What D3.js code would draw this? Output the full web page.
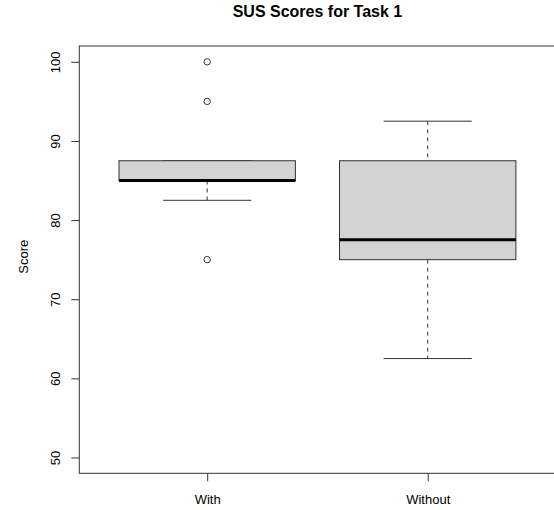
<!DOCTYPE html>
<html>
<head>
<meta charset="utf-8">
<script src="https://cdn.jsdelivr.net/npm/d3@7"></script>
<style>
  html, body { margin: 0; padding: 0; background: #fff; }
  svg { display: block; }
  text { font-family: "Liberation Sans", Arial, Helvetica, sans-serif; fill: #000; }
</style>
</head>
<body>
<script>
// ---- data ----
const groups = ["With", "Without"];
const lowerWhisker = [82.5, 62.5];
const q1 = [85, 75];
const median = [85, 77.5];
const q3 = [87.5, 87.5];
const upperWhisker = [87.5, 92.5];
const outliers = [[100, 95, 75], []];
const yTicks = [50, 60, 70, 80, 90, 100];
const title = "SUS Scores for Task 1";
const yLabel = "Score";

// ---- layout ----
const W = 554, H = 510;
const svg = d3.select("body").append("svg").attr("width", W).attr("height", H);

const x = d3.scaleLinear().domain([0.42, 2.58]).range([79.3, 555.6]);
const y = d3.scaleLinear().domain([48, 102]).range([473.3, 46]);
const boxHalf = 0.4, capHalf = 0.2;
const lineCol = "#333";

const data = groups.map((g, i) => ({
  g, i: i + 1, lo: lowerWhisker[i], q1: q1[i], med: median[i], q3: q3[i], hi: upperWhisker[i], out: outliers[i]
}));

const gBox = svg.append("g");
data.forEach(d => {
  const g = gBox.append("g");
  // whiskers (dashed)
  g.append("line").attr("x1", x(d.i)).attr("x2", x(d.i)).attr("y1", y(d.hi)).attr("y2", y(d.q3))
    .attr("stroke", lineCol).attr("stroke-dasharray", "4,4");
  g.append("line").attr("x1", x(d.i)).attr("x2", x(d.i)).attr("y1", y(d.q1)).attr("y2", y(d.lo))
    .attr("stroke", lineCol).attr("stroke-dasharray", "4,4");
  // caps
  [d.lo, d.hi].forEach(v => {
    g.append("line").attr("x1", x(d.i - capHalf)).attr("x2", x(d.i + capHalf))
      .attr("y1", y(v)).attr("y2", y(v)).attr("stroke", lineCol);
  });
  // box
  g.append("rect").attr("x", x(d.i - boxHalf)).attr("width", x(d.i + boxHalf) - x(d.i - boxHalf))
    .attr("y", y(d.q3)).attr("height", y(d.q1) - y(d.q3))
    .attr("fill", "#d3d3d3").attr("stroke", lineCol);
  // median
  g.append("line").attr("x1", x(d.i - boxHalf)).attr("x2", x(d.i + boxHalf))
    .attr("y1", y(d.med)).attr("y2", y(d.med)).attr("stroke", "#000").attr("stroke-width", 3);
  // outliers
  g.selectAll("circle").data(d.out).enter().append("circle")
    .attr("cx", x(d.i)).attr("cy", v => y(v)).attr("r", 3.2)
    .attr("fill", "none").attr("stroke", lineCol);
});

// frame
svg.append("rect").attr("x", x(0.42)).attr("y", y(102))
  .attr("width", x(2.58) - x(0.42)).attr("height", y(48) - y(102))
  .attr("fill", "none").attr("stroke", lineCol);

// y axis
const yAxis = d3.axisLeft(y).tickValues(yTicks).tickSize(8).tickFormat(d3.format("d"));
const gy = svg.append("g").attr("transform", `translate(${x(0.42)},0)`).call(yAxis);
gy.select(".domain").remove();
gy.selectAll(".tick line").attr("stroke", lineCol);
gy.selectAll(".tick text")
  .attr("x", 0).attr("dy", 0)
  .attr("transform", "translate(-19,0) rotate(-90)")
  .attr("text-anchor", "middle")
  .style("font-size", "13px")
  .style("font-family", "'Liberation Sans', Arial, sans-serif")
  .attr("fill", "#000");

// x axis
const xAxis = d3.axisBottom(x).tickValues(data.map(d => d.i)).tickSize(8).tickFormat((v) => groups[v - 1]);
const gx = svg.append("g").attr("transform", `translate(0,${y(48)})`).call(xAxis);
gx.select(".domain").remove();
gx.selectAll(".tick line").attr("stroke", lineCol);
gx.selectAll(".tick text")
  .attr("y", 31).attr("dy", 0)
  .style("font-size", "13px")
  .style("font-family", "'Liberation Sans', Arial, sans-serif")
  .attr("fill", "#000");

// y label
svg.append("text").attr("transform", `translate(28,${(y(48) + y(102)) / 2 - 3}) rotate(-90)`)
  .attr("text-anchor", "middle").style("font-size", "13px").text(yLabel);

// title
svg.append("text").attr("x", (x(0.42) + x(2.58)) / 2).attr("y", 17)
  .attr("text-anchor", "middle").style("font-size", "16px").style("font-weight", "bold").text(title);
</script>
</body>
</html>
